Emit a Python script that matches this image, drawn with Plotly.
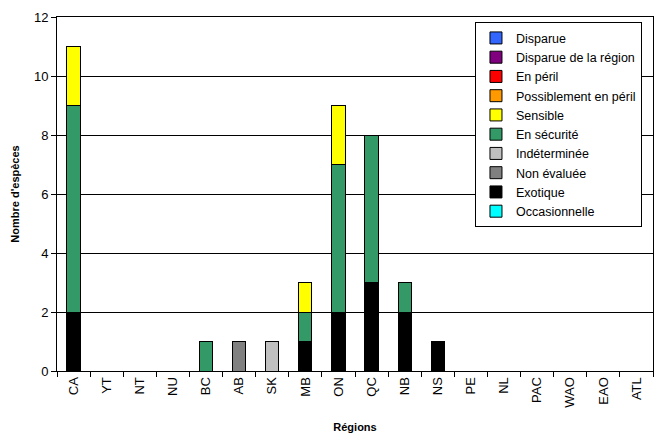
import plotly.graph_objects as go

# régions (axe des x)
regions = ["CA", "YT", "NT", "NU", "BC", "AB", "SK", "MB", "ON", "QC",
           "NB", "NS", "PE", "NL", "PAC", "WAO", "EAO", "ATL"]

# nombre d'espèces par statut (ordre d'empilement : du bas vers le haut)
occasionnelle = [0] * 18
exotique      = [2, 0, 0, 0, 0, 0, 0, 1, 2, 3, 2, 1, 0, 0, 0, 0, 0, 0]
non_evaluee   = [0, 0, 0, 0, 0, 1, 0, 0, 0, 0, 0, 0, 0, 0, 0, 0, 0, 0]
indeterminee  = [0, 0, 0, 0, 0, 0, 1, 0, 0, 0, 0, 0, 0, 0, 0, 0, 0, 0]
en_securite   = [7, 0, 0, 0, 1, 0, 0, 1, 5, 5, 1, 0, 0, 0, 0, 0, 0, 0]
sensible      = [2, 0, 0, 0, 0, 0, 0, 1, 2, 0, 0, 0, 0, 0, 0, 0, 0, 0]
possiblement  = [0] * 18
en_peril      = [0] * 18
disparue_reg  = [0] * 18
disparue      = [0] * 18

series = [
    ("Occasionnelle", occasionnelle, "#00FFFF"),
    ("Exotique", exotique, "#000000"),
    ("Non évaluée", non_evaluee, "#808080"),
    ("Indéterminée", indeterminee, "#C0C0C0"),
    ("En sécurité", en_securite, "#339966"),
    ("Sensible", sensible, "#FFFF00"),
    ("Possiblement en péril", possiblement, "#FF9900"),
    ("En péril", en_peril, "#FF0000"),
    ("Disparue de la région", disparue_reg, "#800080"),
    ("Disparue", disparue, "#3366FF"),
]

fig = go.Figure()
for nom, valeurs, couleur in series:
    fig.add_trace(go.Bar(
        x=regions,
        y=[v if v else None for v in valeurs],
        name=nom,
        marker=dict(color=couleur, line=dict(color="black", width=1)),
    ))

# la page ajoute une marge de 8 px autour du graphique
fig.update_layout(
    width=649, height=425,
    barmode="stack",
    bargap=0.6,
    plot_bgcolor="white",
    paper_bgcolor="white",
    font=dict(family="Liberation Sans, Arial, sans-serif", size=13, color="black"),
    margin=dict(l=49, r=4, t=9, b=62),
    legend=dict(
        traceorder="reversed",
        x=0.9815, y=0.985, xanchor="right", yanchor="top",
        bgcolor="white", bordercolor="black", borderwidth=1,
        font=dict(size=12.5),
        itemwidth=30,
        tracegroupgap=0,
    ),
    xaxis=dict(
        title=dict(text="<b>Régions</b>", font=dict(size=11), standoff=17),
        tickangle=-90,
        automargin=False,
        showline=True, linecolor="black", linewidth=1, mirror=True,
        ticks="outside", tickson="boundaries", ticklen=5, tickcolor="black",
        categoryorder="array", categoryarray=regions,
    ),
    yaxis=dict(
        title=dict(text="<b>Nombre d'espèces</b>", font=dict(size=11), standoff=12),
        range=[0, 12], dtick=2,
        automargin=False,
        showline=True, linecolor="black", linewidth=1, mirror=True,
        ticks="outside", ticklen=5, tickcolor="black",
        showgrid=True, gridcolor="black", gridwidth=1,
        zeroline=False,
    ),
)

fig.write_html("out.html")
